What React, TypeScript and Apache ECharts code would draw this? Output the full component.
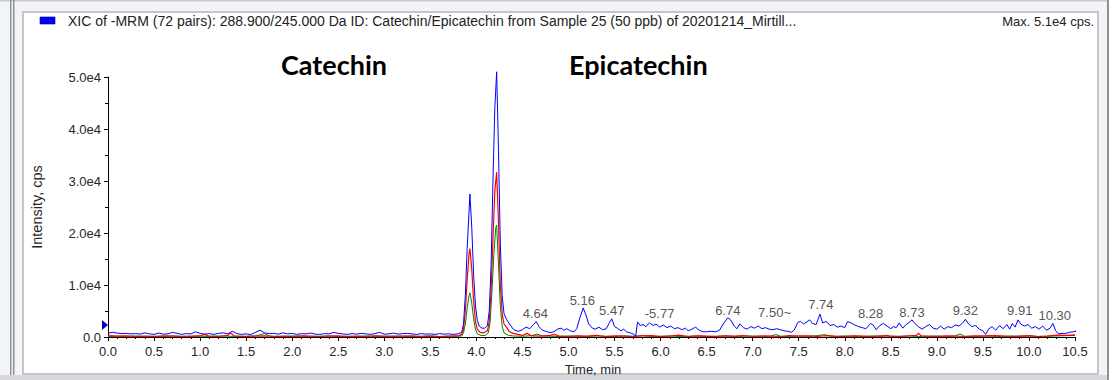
import React, { useEffect, useRef } from "react";
import * as echarts from "echarts";

// Blue trace (main XIC), [time min, intensity cps]
const blueTrace: [number, number][] = [
  [0.0, 700], [0.05, 900], [0.1, 750], [0.15, 650], [0.2, 700], [0.25, 600], [0.3, 650], [0.35, 550], [0.4, 800], [0.45, 600],
  [0.5, 500], [0.55, 750], [0.6, 550], [0.65, 600], [0.7, 900], [0.75, 700], [0.8, 500], [0.85, 650], [0.9, 600], [0.95, 1000],
  [1.0, 700], [1.05, 550], [1.1, 650], [1.15, 500], [1.2, 700], [1.25, 800], [1.3, 600], [1.35, 1100], [1.4, 650], [1.45, 500],
  [1.5, 600], [1.55, 450], [1.6, 900], [1.65, 1300], [1.7, 800], [1.75, 650], [1.8, 700], [1.85, 550], [1.9, 800], [1.95, 600],
  [2.0, 700], [2.05, 500], [2.1, 650], [2.15, 600], [2.2, 750], [2.25, 550], [2.3, 500], [2.35, 650], [2.4, 600], [2.45, 900],
  [2.5, 700], [2.55, 600], [2.6, 500], [2.65, 650], [2.7, 550], [2.75, 700], [2.8, 600], [2.85, 500], [2.9, 650], [2.95, 900],
  [3.0, 550], [3.05, 600], [3.1, 750], [3.15, 550], [3.2, 650], [3.25, 700], [3.3, 600], [3.35, 500], [3.4, 650], [3.45, 550],
  [3.5, 600], [3.55, 500], [3.6, 650], [3.65, 550], [3.7, 600], [3.75, 500], [3.8, 600],
  [3.84, 900], [3.86, 2500], [3.88, 8000], [3.9, 17000], [3.92, 24000], [3.93, 27500], [3.95, 21000], [3.97, 12000], [3.99, 6000],
  [4.01, 3200], [4.03, 2100], [4.06, 1700], [4.09, 1700], [4.12, 2200], [4.14, 5000], [4.16, 14000], [4.18, 30000], [4.2, 44000],
  [4.22, 51000], [4.24, 36000], [4.26, 18000], [4.28, 8000], [4.3, 4500], [4.33, 3300], [4.36, 2500], [4.4, 1500], [4.43, 1200],
  [4.46, 1100], [4.5, 1400], [4.54, 1900], [4.58, 1600], [4.62, 2400], [4.65, 2950], [4.68, 2000], [4.71, 1400], [4.75, 1100],
  [4.8, 850], [4.84, 1000], [4.88, 1500], [4.92, 1700], [4.95, 1300], [4.98, 1600], [5.02, 1200], [5.06, 1000], [5.09, 1600],
  [5.12, 3500], [5.16, 5600], [5.19, 4200], [5.22, 2500], [5.26, 1700], [5.29, 1500], [5.33, 1900], [5.37, 1400], [5.41, 1600],
  [5.44, 2600], [5.47, 3500], [5.5, 2000], [5.53, 1700], [5.57, 1200], [5.6, 1500], [5.63, 1000], [5.67, 800], [5.7, 600],
  [5.73, 200], [5.75, 2900], [5.78, 2200], [5.81, 2400], [5.84, 2000], [5.88, 2700], [5.92, 2200], [5.95, 2500], [5.99, 1900],
  [6.03, 2300], [6.07, 1800], [6.11, 2100], [6.15, 1600], [6.19, 1800], [6.23, 1400], [6.27, 1700], [6.3, 1200], [6.34, 1500],
  [6.38, 1900], [6.42, 1300], [6.46, 1000], [6.5, 1000], [6.55, 1100], [6.6, 1000], [6.64, 1300], [6.68, 2500], [6.73, 3700],
  [6.76, 3300], [6.8, 2100], [6.83, 1600], [6.86, 2500], [6.9, 1800], [6.94, 1500], [6.98, 2000], [7.02, 1700], [7.06, 2100],
  [7.1, 1600], [7.14, 1800], [7.18, 1500], [7.22, 1400], [7.26, 1600], [7.3, 1400], [7.34, 1200], [7.38, 1100], [7.42, 900],
  [7.45, 1300], [7.49, 2800], [7.52, 3000], [7.55, 2500], [7.58, 2800], [7.62, 3300], [7.65, 2600], [7.69, 2400], [7.73, 4400],
  [7.76, 2700], [7.8, 3000], [7.84, 2200], [7.88, 2400], [7.92, 1900], [7.96, 2100], [8.0, 1800], [8.03, 2950], [8.07, 2700],
  [8.11, 2300], [8.15, 2000], [8.19, 1800], [8.23, 1600], [8.28, 2600], [8.31, 2300], [8.34, 1400], [8.38, 2200], [8.42, 2600],
  [8.46, 2100], [8.5, 1600], [8.53, 2000], [8.56, 1800], [8.59, 2700], [8.63, 1700], [8.66, 2300], [8.7, 2800], [8.73, 3300],
  [8.76, 2600], [8.8, 2000], [8.84, 1500], [8.88, 2000], [8.92, 2400], [8.96, 1700], [9.0, 1500], [9.04, 2100], [9.08, 1500],
  [9.12, 2000], [9.16, 1800], [9.2, 2300], [9.24, 2100], [9.28, 2700], [9.31, 3400], [9.34, 2600], [9.38, 2000], [9.42, 2200],
  [9.46, 1500], [9.5, 1200], [9.53, 500], [9.56, 1500], [9.6, 2000], [9.64, 1300], [9.68, 2200], [9.72, 1600], [9.76, 2400],
  [9.79, 1500], [9.82, 2600], [9.85, 1900], [9.88, 3300], [9.91, 2500], [9.95, 2100], [9.99, 2400], [10.03, 1700], [10.07, 2000],
  [10.11, 1500], [10.15, 2100], [10.19, 1300], [10.23, 1700], [10.26, 2600], [10.29, 1200], [10.32, 600], [10.36, 700],
  [10.4, 700], [10.44, 900], [10.48, 1000], [10.51, 1100], [10.53, 2100],
];

// Red trace
const redTrace: [number, number][] = [
  [0.0, 250], [0.1, 150], [0.2, 200], [0.3, 100], [0.4, 150], [0.5, 100], [0.6, 200], [0.7, 150], [0.8, 100], [0.9, 150],
  [1.0, 200], [1.05, 500], [1.1, 150], [1.2, 100], [1.3, 300], [1.33, 800], [1.37, 200], [1.5, 100], [1.6, 150], [1.7, 200],
  [1.8, 100], [1.9, 150], [2.0, 100], [2.1, 200], [2.2, 150], [2.3, 100], [2.4, 150], [2.5, 200], [2.6, 100], [2.7, 150],
  [2.8, 100], [2.9, 200], [3.0, 150], [3.1, 100], [3.2, 150], [3.3, 200], [3.4, 100], [3.5, 150], [3.6, 100], [3.7, 150],
  [3.8, 200], [3.84, 500], [3.86, 1500], [3.88, 5000], [3.9, 11000], [3.92, 16000], [3.93, 17000], [3.95, 13000], [3.97, 7000],
  [3.99, 3000], [4.01, 1500], [4.04, 900], [4.08, 800], [4.12, 1200], [4.14, 3000], [4.16, 9000], [4.18, 19000], [4.2, 28000],
  [4.22, 31700], [4.24, 22000], [4.26, 10000], [4.28, 4500], [4.3, 2500], [4.33, 1800], [4.36, 1000], [4.4, 700], [4.45, 500],
  [4.5, 300], [4.55, 700], [4.6, 200], [4.7, 150], [4.8, 300], [4.85, 500], [4.9, 150], [5.0, 100], [5.1, 200], [5.2, 150],
  [5.3, 300], [5.4, 100], [5.5, 200], [5.6, 150], [5.7, 100], [5.8, 200], [5.9, 250], [6.0, 100], [6.1, 150], [6.2, 350],
  [6.3, 100], [6.4, 200], [6.5, 150], [6.6, 100], [6.7, 200], [6.8, 150], [6.9, 250], [7.0, 100], [7.1, 200], [7.2, 150],
  [7.3, 100], [7.4, 250], [7.5, 150], [7.6, 200], [7.7, 100], [7.8, 250], [7.9, 150], [8.0, 100], [8.1, 200], [8.2, 150],
  [8.3, 100], [8.4, 200], [8.5, 150], [8.6, 100], [8.7, 200], [8.78, 300], [8.8, 750], [8.83, 200], [8.9, 150], [9.0, 100],
  [9.1, 200], [9.2, 150], [9.3, 100], [9.4, 200], [9.5, 150], [9.6, 250], [9.7, 200], [9.8, 100], [9.9, 150], [10.0, 200],
  [10.1, 100], [10.2, 150], [10.3, 350], [10.4, 300], [10.5, 400],
];

// Green trace
const greenTrace: [number, number][] = [
  [0.0, 100], [0.1, 150], [0.2, 100], [0.3, 200], [0.4, 100], [0.5, 150], [0.6, 100], [0.7, 200], [0.8, 150], [0.9, 100],
  [1.0, 150], [1.1, 100], [1.2, 200], [1.3, 150], [1.4, 100], [1.5, 150], [1.6, 200], [1.7, 650], [1.75, 200], [1.8, 150],
  [1.9, 100], [2.0, 200], [2.1, 150], [2.2, 100], [2.3, 150], [2.4, 200], [2.5, 100], [2.6, 150], [2.7, 100], [2.8, 200],
  [2.9, 150], [3.0, 100], [3.1, 200], [3.2, 150], [3.3, 100], [3.4, 150], [3.5, 200], [3.6, 100], [3.7, 150], [3.8, 150],
  [3.84, 200], [3.86, 800], [3.88, 2500], [3.9, 5500], [3.92, 8000], [3.93, 8500], [3.95, 6500], [3.97, 3500], [3.99, 1500],
  [4.01, 600], [4.05, 300], [4.1, 300], [4.13, 800], [4.15, 3000], [4.17, 9000], [4.19, 16000], [4.21, 21000], [4.22, 21500],
  [4.24, 14000], [4.26, 6000], [4.28, 2000], [4.3, 800], [4.35, 300], [4.4, 200], [4.5, 150], [4.6, 250], [4.66, 550],
  [4.72, 200], [4.8, 150], [4.9, 100], [5.0, 200], [5.1, 150], [5.2, 100], [5.3, 200], [5.4, 150], [5.5, 100], [5.6, 200],
  [5.7, 150], [5.8, 250], [5.9, 100], [6.0, 150], [6.1, 200], [6.2, 100], [6.3, 150], [6.4, 200], [6.5, 100], [6.6, 150],
  [6.7, 200], [6.8, 100], [6.9, 150], [7.0, 200], [7.1, 100], [7.2, 150], [7.25, 500], [7.3, 150], [7.4, 100], [7.5, 200],
  [7.6, 150], [7.7, 250], [7.78, 450], [7.85, 150], [7.9, 100], [8.0, 200], [8.1, 150], [8.2, 100], [8.3, 200], [8.4, 150],
  [8.45, 350], [8.5, 100], [8.6, 150], [8.7, 200], [8.8, 100], [8.9, 150], [9.0, 200], [9.1, 100], [9.2, 200], [9.25, 600],
  [9.3, 150], [9.4, 100], [9.5, 200], [9.6, 150], [9.7, 100], [9.8, 200], [9.9, 150], [10.0, 250], [10.1, 100], [10.2, 150],
  [10.3, 200], [10.4, 250], [10.5, 300],
];

// Peak apex labels
const peakTimes = [4.22, 4.64, 5.16, 5.47, 5.77, 6.74, 7.5, 7.74, 8.28, 8.73, 9.32, 9.91, 10.3];
const peakPlotTimes = [4.21, 4.64, 5.15, 5.47, 5.75, 6.73, 7.52, 7.74, 8.28, 8.73, 9.31, 9.9, 10.28];
const peakHeights = [51000, 2900, 5400, 3460, 2900, 3460, 3080, 4600, 2900, 3100, 3460, 3460, 2500];
const peakDx = [0, 0, 0, 0, 22, 0, -26, 0, 0, 0, 0, 0, 0];

const xTicks = { min: 0, max: 10.5, interval: 0.5 };
const yTicks = { min: 0, max: 50000, interval: 10000 };
const markerLevel = 2300;

const FONT = "'Liberation Sans', Arial, sans-serif";
const TXT = "#262626";

export default function App() {
  const ref = useRef<HTMLDivElement>(null);
  useEffect(() => {
    if (!ref.current) return;
    const chart = echarts.init(ref.current, undefined, { renderer: "svg" });
    const labelData = peakTimes.map((t, i) => ({
      value: [peakPlotTimes[i], peakHeights[i]],
      label: {
        formatter: (peakDx[i] > 0 ? "-" : "") + t.toFixed(2) + (peakDx[i] < 0 ? "~" : ""),
        offset: [peakDx[i], 0],
      },
    }));
    chart.setOption({
      animation: false,
      backgroundColor: "#f2f4f8",
      grid: { left: 108, right: 38, top: 77, bottom: 43, containLabel: false },
      graphic: [
        { type: "rect", z: -20, shape: { x: 0, y: 0, width: 1113, height: 380 }, style: { fill: "#f2f4f8" } },
        { type: "rect", z: -19, shape: { x: 0, y: 0, width: 1113, height: 1.5 }, style: { fill: "#c9cbd0" } },
        { type: "rect", z: -19, shape: { x: 10, y: 0, width: 1.5, height: 380 }, style: { fill: "#8e9196" } },
        { type: "rect", z: -19, shape: { x: 13, y: 0, width: 1.5, height: 380 }, style: { fill: "#8e9196" } },
        { type: "rect", z: -19, shape: { x: 1107, y: 0, width: 2, height: 380 }, style: { fill: "#8e9196" } },
        { type: "rect", z: -19, shape: { x: 1109, y: 0, width: 4, height: 380 }, style: { fill: "#ffffff" } },
        { type: "rect", z: -19, shape: { x: 0, y: 375, width: 1107, height: 5 }, style: { fill: "#d6d8dc" } },
        {
          type: "rect", z: -18,
          shape: { x: 23, y: 12, width: 1075, height: 362 },
          style: { fill: "#ffffff", stroke: "#c3c6cb", lineWidth: 2 },
        },
        { type: "rect", z: 5, shape: { x: 40, y: 17, width: 15, height: 7 }, style: { fill: "#0000ff", stroke: "#000080", lineWidth: 0.6 } },
        {
          type: "text", z: 5, x: 68, y: 21,
          style: {
            text: "XIC of -MRM (72 pairs): 288.900/245.000 Da ID: Catechin/Epicatechin from Sample 25 (50 ppb) of 20201214_Mirtill...",
            font: `14px ${FONT}`, fill: "#222", verticalAlign: "middle",
          },
        },
        {
          type: "text", z: 5, x: 1094, y: 21,
          style: { text: "Max. 5.1e4 cps.", font: `13px ${FONT}`, fill: "#222", align: "right", verticalAlign: "middle" },
        },
        {
          type: "text", z: 5, x: 281, y: 64,
          style: { text: "Catechin", font: `bold 27px Lato, 'Open Sans', sans-serif`, fill: "#000", verticalAlign: "middle" },
        },
        {
          type: "text", z: 5, x: 569, y: 64,
          style: { text: "Epicatechin", font: `bold 27px Lato, 'Open Sans', sans-serif`, fill: "#000", verticalAlign: "middle" },
        },
        {
          type: "text", z: 5, x: 593, y: 369,
          style: { text: "Time, min", font: `13px ${FONT}`, fill: TXT, align: "center", verticalAlign: "middle" },
        },
      ],
      xAxis: {
        type: "value",
        min: xTicks.min,
        max: xTicks.max,
        interval: xTicks.interval,
        axisLine: { show: true, onZero: false, lineStyle: { color: "#000", width: 1 } },
        axisTick: { show: true, length: 4, lineStyle: { color: "#000" } },
        minorTick: { show: true, splitNumber: 5, length: 2, lineStyle: { color: "#000" } },
        splitLine: { show: false },
        axisLabel: {
          margin: 8, fontSize: 13, fontFamily: FONT, color: TXT,
          formatter: (v: number) => v.toFixed(1),
        },
      },
      yAxis: {
        type: "value",
        min: yTicks.min,
        max: yTicks.max,
        interval: yTicks.interval,
        name: "Intensity, cps",
        nameLocation: "middle",
        nameGap: 64,
        nameRotate: 90,
        nameTextStyle: { fontSize: 14.5, fontFamily: FONT, color: TXT },
        axisLine: { show: true, lineStyle: { color: "#000", width: 1 } },
        axisTick: { show: true, length: 4, lineStyle: { color: "#000" } },
        minorTick: { show: true, splitNumber: 2, length: 3, lineStyle: { color: "#000" } },
        splitLine: { show: false },
        axisLabel: {
          margin: 7, fontSize: 13, fontFamily: FONT, color: TXT,
          formatter: (v: number) => (v === 0 ? "0.0" : (v / 10000).toFixed(1) + "e4"),
        },
      },
      series: [
        {
          type: "line", data: greenTrace, showSymbol: false, clip: false, z: 3,
          lineStyle: { color: "#008000", width: 1 }, itemStyle: { color: "#008000" },
        },
        {
          type: "line", data: redTrace, showSymbol: false, clip: false, z: 4,
          lineStyle: { color: "#ff0000", width: 1.2 }, itemStyle: { color: "#ff0000" },
        },
        {
          type: "line", data: blueTrace, showSymbol: false, clip: false, z: 5,
          lineStyle: { color: "#0000ff", width: 1 }, itemStyle: { color: "#0000ff" },
          markPoint: {
            symbol: "path://M0,0 L6,5 L0,10 Z",
            symbolSize: [6, 10],
            symbolOffset: [-3, 0],
            itemStyle: { color: "#0000cc" },
            label: { show: false },
            data: [{ coord: [0, markerLevel] }],
          },
        },
        {
          type: "scatter", data: labelData, symbolSize: 0, z: 6, silent: true,
          label: {
            show: true, position: "top", distance: 2,
            fontSize: 13, fontFamily: FONT, color: TXT,
          },
        },
      ],
    });
    return () => chart.dispose();
  }, []);
  return <div ref={ref} style={{ position: "absolute", left: 0, top: 0, width: 1113, height: 380 }} />;
}
